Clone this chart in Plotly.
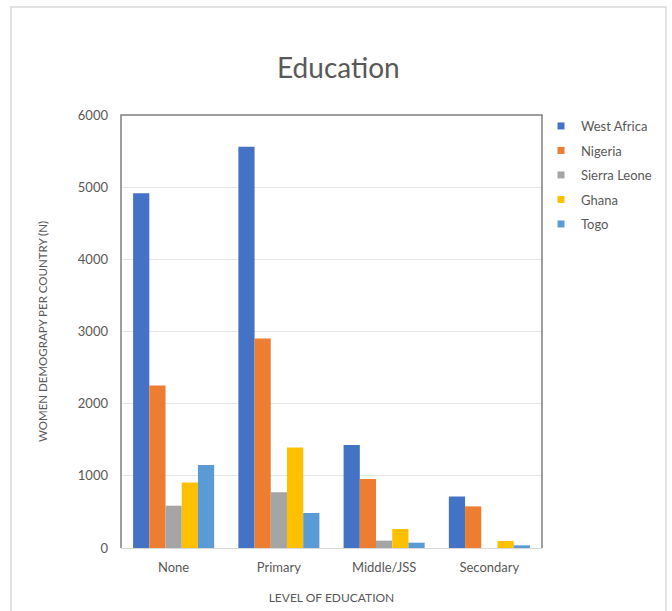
import plotly.graph_objects as go

categories = ["None", "Primary", "Middle/JSS", "Secondary"]
series_names = ["West Africa", "Nigeria", "Sierra Leone", "Ghana", "Togo"]
west_africa = [4915, 5560, 1426, 715]
nigeria = [2252, 2903, 955, 577]
sierra_leone = [586, 771, 102, 0]
ghana = [909, 1394, 263, 97]
togo = [1149, 485, 74, 37]
y_ticks = [0, 1000, 2000, 3000, 4000, 5000, 6000]

colors = ["#4472C4", "#ED7D31", "#A5A5A5", "#FFC000", "#5B9BD5"]
values = [west_africa, nigeria, sierra_leone, ghana, togo]

FONT = "Lato, 'Open Sans', sans-serif"
TXT = "#595959"

fig = go.Figure()
for i, (name, vals) in enumerate(zip(series_names, values)):
    fig.add_trace(go.Bar(x=categories, y=vals, name=name, marker_color=colors[i],
                         marker_line_width=0, legendgroup=name, showlegend=False))
# legend entries with small square keys (no data)
for i, name in enumerate(series_names):
    fig.add_trace(go.Scatter(x=[None], y=[None], mode="markers", name=name,
                             marker=dict(symbol="square", size=7, color=colors[i]),
                             legendgroup=name, showlegend=True, hoverinfo="skip"))

W, H = 672, 611
L, R, T, B = 121, 542, 115, 548
pw, ph = R - L, B - T

def px(x):
    return (x - L) / pw

def py(y):
    return (B - y) / ph

fig.update_layout(
    width=W, height=H,
    margin=dict(l=L, r=W - R, t=T, b=H - B, autoexpand=False),
    paper_bgcolor="white", plot_bgcolor="white",
    font=dict(family=FONT, color=TXT, size=12),
    barmode="group", bargap=0.23, bargroupgap=0,
    title=dict(text="Education", x=px(333), xanchor="center", y=1 - 68 / H, yanchor="middle",
               font=dict(size=28, color=TXT, family=FONT)),
    legend=dict(x=px(541), y=py(111), xanchor="left", yanchor="top",
                font=dict(size=13, color=TXT), traceorder="grouped", tracegroupgap=4.6,
                itemwidth=30, bgcolor="rgba(0,0,0,0)"),
    xaxis=dict(showline=True, linecolor="#d9d9d9", linewidth=1, showgrid=False, automargin=False,
               ticks="", ticklabelstandoff=7, tickfont=dict(size=13, color=TXT),
               title=dict(text="LEVEL OF EDUCATION", font=dict(size=12, color=TXT), standoff=20)),
    yaxis=dict(range=[0, 6000], tickvals=y_ticks, showgrid=True, gridcolor="#e6e6e6", automargin=False,
               zeroline=False, showline=False, ticks="", ticklabelstandoff=12,
               tickfont=dict(size=13, color=TXT),
               title=dict(text="WOMEN DEMOGRAPY PER COUNTRY (N)", font=dict(size=11.5, color=TXT), standoff=27)),
    shapes=[
        dict(type="path", xref="paper", yref="paper",
             path="M 0 0 L 0 1 L 1 1 L 1 0",
             line=dict(color="#7f7f7f", width=1.5), layer="above"),
        dict(type="rect", xref="paper", yref="paper",
             x0=px(11), x1=px(666), y0=py(7), y1=py(640),
             line=dict(color="#d9d9d9", width=1.5), layer="below"),
    ],
)

fig.write_html("out.html")
